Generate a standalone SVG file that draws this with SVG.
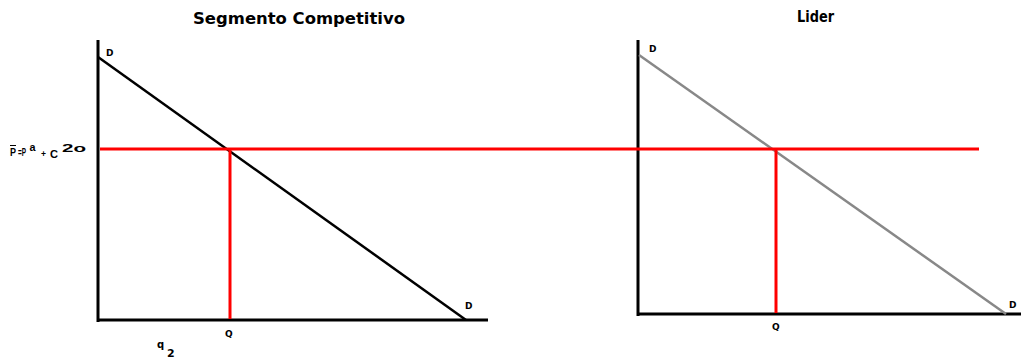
<svg xmlns="http://www.w3.org/2000/svg" width="1021" height="364" viewBox="0 0 1021 364">
<style>
.t{font-family:"DejaVu Sans","Liberation Sans",Arial,sans-serif;font-weight:bold;fill:#000}
.f{font-family:"Liberation Sans",Arial,sans-serif;font-weight:bold;fill:#000}
.ax{stroke:#000;stroke-width:3;fill:none}
.red{stroke:#ff0000;stroke-width:3;fill:none}
.lbl{font-size:9px}
</style>
<rect width="1021" height="364" fill="#fff"/>
<g id="title-left"><text class="t" x="193" y="24" font-size="16" textLength="212" lengthAdjust="spacingAndGlyphs">Segmento Competitivo</text></g>
<g id="title-right"><text class="t" x="797" y="22" font-size="16" textLength="37" lengthAdjust="spacingAndGlyphs">Lider</text></g>
<g id="connectors">
<line class="ax" x1="98" y1="40" x2="98" y2="322"/>
<line class="ax" x1="97" y1="320" x2="488" y2="320"/>
<line x1="98" y1="57" x2="466" y2="320" stroke="#000" stroke-width="2.5"/>
<line class="ax" x1="638" y1="40" x2="638" y2="316"/>
<line class="ax" x1="637" y1="314" x2="1021" y2="314"/>
<line x1="639" y1="55" x2="1006" y2="314" stroke="#888" stroke-width="2.5"/>
<line class="red" x1="100" y1="149" x2="979" y2="149"/>
<line class="red" x1="230" y1="149" x2="230" y2="319"/>
<line class="red" x1="776" y1="149" x2="776" y2="313"/>
</g>
<g id="labels">
<text class="t lbl" x="106" y="56">D</text>
<text class="t lbl" x="465" y="309">D</text>
<text class="t lbl" x="649" y="52">D</text>
<text class="t lbl" x="1009" y="308">D</text>
<text class="t lbl" x="225" y="337">Q</text>
<text class="t lbl" x="772" y="330">Q</text>
<text class="t" font-size="10" x="157" y="348">q</text>
<text class="t" font-size="11" x="167" y="357">2</text>
<text class="f" font-size="10" x="10" y="156" textLength="6" lengthAdjust="spacingAndGlyphs">P</text>
<line x1="10" y1="145.5" x2="16" y2="145.5" stroke="#000" stroke-width="1"/>
<text class="f" font-size="10" x="18" y="156" textLength="8" lengthAdjust="spacingAndGlyphs">=P</text>
<text class="f" font-size="10" x="29.5" y="151" textLength="6" lengthAdjust="spacingAndGlyphs">a</text>
<text class="f" font-size="9" x="41" y="157" textLength="5" lengthAdjust="spacingAndGlyphs">+</text>
<text class="f" font-size="11" x="50" y="158" textLength="8" lengthAdjust="spacingAndGlyphs">C</text>
<text class="f" font-size="10" x="62" y="152" textLength="24" lengthAdjust="spacingAndGlyphs">2o</text>
</g>
</svg>
